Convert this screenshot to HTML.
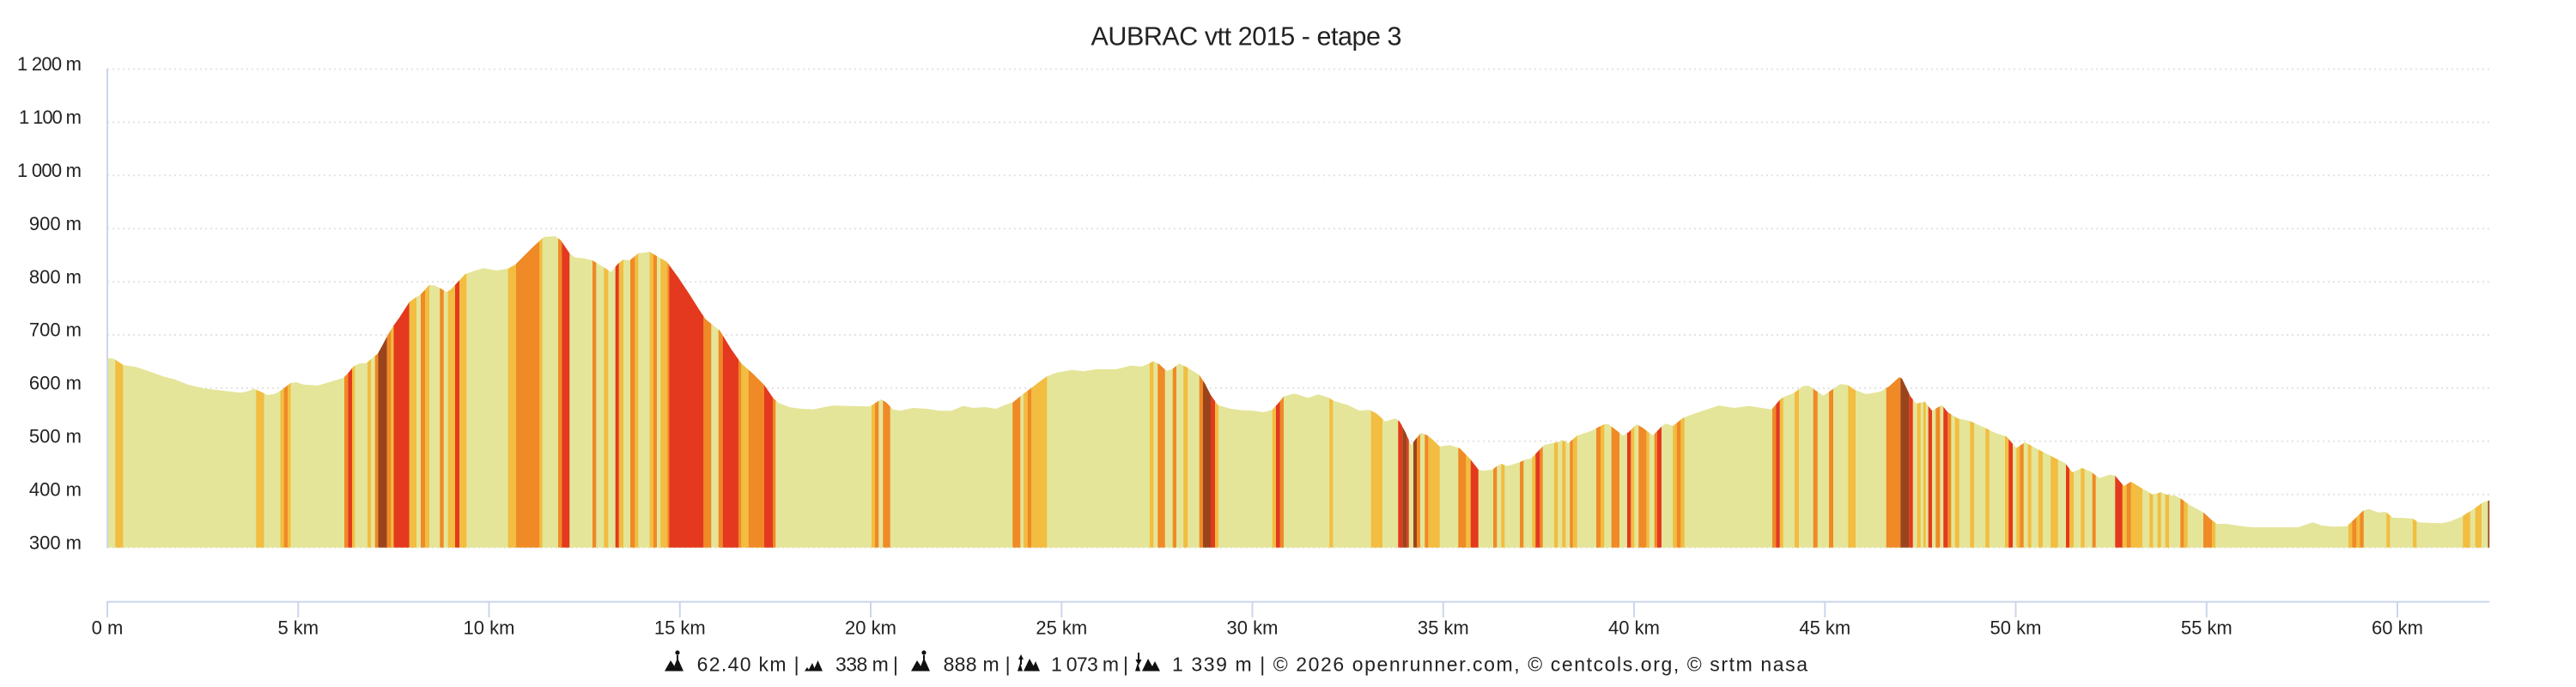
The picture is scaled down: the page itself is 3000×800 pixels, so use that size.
<!DOCTYPE html>
<html><head><meta charset="utf-8"><style>
html,body{margin:0;padding:0;background:#fff;}
svg{display:block;}
text{font-family:"Liberation Sans",sans-serif;fill:#222;}
</style></head><body>
<svg width="3000" height="800" viewBox="0 0 3000 800" xmlns="http://www.w3.org/2000/svg">
<rect width="3000" height="800" fill="#fff"/>
<text x="1270.5" y="52.3" font-size="30.5" textLength="362" fill="#111">AUBRAC vtt 2015 - etape 3</text>
<g stroke="#e3e3e3" stroke-width="2" stroke-dasharray="2,4">
<path d="M125,80.5H2899M125,142.4H2899M125,204.3H2899M125,266.2H2899M125,328.1H2899M125,390H2899M125,451.9H2899M125,513.8H2899M125,575.7H2899M125,637.6H2899"/>
</g>
<g font-size="22" text-anchor="end">
<text x="95" y="82.2" textLength="75">1 200 m</text>
<text x="95" y="144.1" textLength="73">1 100 m</text>
<text x="95" y="206" textLength="75">1 000 m</text>
<text x="95" y="267.9">900 m</text>
<text x="95" y="329.8">800 m</text>
<text x="95" y="391.7">700 m</text>
<text x="95" y="453.6">600 m</text>
<text x="95" y="515.5">500 m</text>
<text x="95" y="577.4">400 m</text>
<text x="95" y="639.3">300 m</text>
</g>
<defs>
<clipPath id="prof">
<polygon points="125,637.6 125,417.3 130.7,417.3 135,419.3 143.3,425 158.3,427.3 173.3,432.3 190,438.3 203.3,441.7 220,448.3 240,452.7 260,455 280,457.3 287.3,456 296,452.7 303.3,456 311.7,460 320,458.7 328.3,454 338.3,446 345,445 353.3,447.7 370,449 383.3,445 400,440 405,435 411.7,426.7 418.3,423.3 426.7,422.7 433.3,417.3 440,411.7 445,402.7 451.7,390 458.3,379.3 465,370 476.7,351.7 485,345.7 490,342.7 500,331.7 506.7,332.7 513.3,336 520,340 525,337.3 533.3,328.3 541.7,319.3 553.3,315 563.3,312.3 578.3,315 591.7,312.7 600,308.3 610,298.3 620,288.3 633.3,276 646.7,275 653.3,280 663.3,295 670,300 680,300.7 690,303.3 700,309.3 711.7,316.7 720,306.7 726,302.3 733.3,303.3 743.3,295 756.7,293.3 766.7,299.3 776.7,305 790,323.3 803.3,343.3 815,361.7 821.7,371.7 838.3,385 851.7,406.7 863.3,423.3 876.7,435 890,448.3 900,463 906.7,469.3 920,474.3 933.3,476 946.7,476.7 970,472.3 986.7,472.7 1013.3,473.3 1026,465 1031.7,468.3 1040,476.7 1048.3,478.3 1063.3,475 1080,476 1093.3,478.3 1108.3,478.3 1121.7,472.7 1133.3,475 1146.7,474 1160,476 1170,471.7 1180,468.3 1190,460 1200,452.7 1210,445 1219.3,438.3 1230,434 1248.3,430.7 1261.7,432.3 1276.7,430 1300,430 1316.7,425.7 1330,426.7 1343.3,420.7 1350,424 1358.3,431.7 1365,430 1373.3,423.3 1383.3,428.3 1396.7,436.7 1403.3,446.7 1410,460 1418.3,471.7 1433.3,476 1446.7,477.7 1460,478.3 1471.7,480 1481.7,477.3 1488.3,470 1495,461.7 1506.7,458.3 1513.3,460 1523.3,463.3 1535,459.3 1546.7,462.7 1553.3,466.7 1570,471.7 1583.3,478.3 1595,477.3 1603.3,481.7 1613.3,490.7 1625,487.3 1630,490.7 1636.7,503.3 1643.3,518.3 1648.3,511.7 1655,504 1661.7,506.7 1668.3,511.7 1676.7,520 1688.3,518.3 1700,522 1711.7,534 1721.7,546.7 1726.7,548.3 1738.3,546.7 1743.3,542.7 1748.3,540 1755,542.7 1770,538.3 1776.7,535 1783.3,534 1790,526.7 1798.3,518.3 1808.3,516 1813.3,515 1820,512.7 1826.7,516 1836.7,507.3 1853.3,501.7 1860,498.3 1868.3,494 1873.3,494 1883.3,501.7 1890,507.3 1896.7,503.3 1906,494 1913.3,498.3 1925,507.3 1935,496.7 1940,493.3 1948.3,496 1960,486.7 1966.7,484 1983.3,478.3 2001.7,472.3 2020,475 2036.7,472.7 2063.3,476.7 2073.3,465 2078.3,461.7 2088.3,458.3 2100,449.5 2106.7,449.3 2115,455 2123.3,460.7 2131.7,455 2143.3,447.3 2151.7,448.3 2160,454 2173.3,459 2190,456 2200,450 2211.7,439.3 2215,440.7 2225,461.7 2231.7,470 2241.7,467.7 2250,478.3 2261.7,471.7 2268.3,480 2280,487.3 2293.3,490 2310,497.3 2323.3,504 2336.7,508.3 2348.3,521.7 2358.3,515 2376.7,525 2390,531.7 2405,539.3 2413.3,550 2425,545 2435,549.3 2445,556.7 2456.7,552.7 2463.3,554 2473.3,566 2481.7,561 2496.7,570 2500,571.5 2506.7,576 2516.7,573.3 2523.3,576 2533.3,577.3 2540,580.7 2550,588.3 2560,593.3 2566.7,597.3 2575,605 2581.7,610 2593.3,610 2606.7,612.3 2623.3,614 2640,614 2656.7,614 2676.7,614 2685,611 2693.3,608.3 2703.3,611.7 2716.7,613.3 2733.3,612.7 2743.3,603.3 2751.7,595 2758.3,592.7 2770,596.7 2778.3,596 2786.7,602.7 2800,603.3 2810,604 2816.7,608.3 2833.3,609 2843.3,609.3 2853.3,607.3 2866.7,601.7 2880,593.3 2891.7,585 2899.3,582.7 2899.3,637.6"/>
</clipPath>
</defs>
<g clip-path="url(#prof)">
<rect x="125" y="260" width="2775" height="378" fill="#e4e599"/>
<path fill="#f2bd40" d="M134.3,260h9v378h-9zM298.3,260h9.2v378h-9.2zM326.5,260h4.2v378h-4.2zM335,260h3.5v378h-3.5zM410,260h3.3v378h-3.3zM428,260h4v378h-4zM455.4,260h3.1v378h-3.1zM476.6,260h8.4v378h-8.4zM495,260h5v378h-5zM521.7,260h8.3v378h-8.3zM535,260h8.3v378h-8.3zM591.7,260h9.3v378h-9.3zM628.3,260h3.4v378h-3.4zM703.3,260h5v378h-5zM720.7,260h5.3v378h-5.3zM739.3,260h4v378h-4zM756.7,260h4.3v378h-4.3zM769.3,260h8v378h-8zM863.3,260h8.4v378h-8.4zM1015,260h4v378h-4zM1192,260h4.7v378h-4.7zM1201,260h18.3v378h-18.3zM1339,260h4.3v378h-4.3zM1378.3,260h5v378h-5zM1415,260h4v378h-4zM1481.7,260h4.3v378h-4.3zM1548.3,260h4v378h-4zM1596.7,260h13.3v378h-13.3zM1663.3,260h13.4v378h-13.4zM1707.3,260h5.4v378h-5.4zM1748.3,260h4v378h-4zM1784.3,260h4v378h-4zM1810,260h4.3v378h-4.3zM1819.3,260h4v378h-4zM1831.7,260h5v378h-5zM1864,260h4.3v378h-4.3zM1899.3,260h4v378h-4zM1917.3,260h3.4v378h-3.4zM1948.3,260h4.4v378h-4.4zM1957.3,260h4.4v378h-4.4zM2072.7,260h4v378h-4zM2090,260h5v378h-5zM2152.3,260h8.7v378h-8.7zM2232.7,260h4v378h-4zM2240,260h2.7v378h-2.7zM2276.7,260h5v378h-5zM2294.3,260h4.7v378h-4.7zM2312.3,260h4.4v378h-4.4zM2335,260h4.3v378h-4.3zM2348.3,260h4v378h-4zM2361.7,260h4v378h-4zM2374,260h5v378h-5zM2388.3,260h8.4v378h-8.4zM2410,260h5v378h-5zM2423.3,260h4.4v378h-4.4zM2471.7,260h5v378h-5zM2481.7,260h13.3v378h-13.3zM2503.3,260h4v378h-4zM2512.7,260h4v378h-4zM2521.7,260h4.3v378h-4.3zM2543.3,260h4.4v378h-4.4zM2576,260h4v378h-4zM2735,260h4.3v378h-4.3zM2744.3,260h4v378h-4zM2779.3,260h4v378h-4zM2810,260h4.3v378h-4.3zM2868.3,260h8.4v378h-8.4zM2882.7,260h7.3v378h-7.3z"/>
<path fill="#ef8a26" d="M330.7,260h4.3v378h-4.3zM401,260h4.5v378h-4.5zM436.7,260h3.8v378h-3.8zM450.5,260h4.9v378h-4.9zM490,260h5v378h-5zM512.3,260h4.4v378h-4.4zM601,260h27.3v378h-27.3zM650,260h4.3v378h-4.3zM690,260h4.3v378h-4.3zM734,260h5.3v378h-5.3zM761,260h4v378h-4zM777.3,260h2v378h-2zM819.3,260h9v378h-9zM836.7,260h5v378h-5zM860,260h3.3v378h-3.3zM871.7,260h18.3v378h-18.3zM900,260h3.3v378h-3.3zM1019,260h4.3v378h-4.3zM1028.3,260h8.4v378h-8.4zM1179.3,260h9v378h-9zM1196.7,260h4.3v378h-4.3zM1348.3,260h8.4v378h-8.4zM1365.7,260h4.3v378h-4.3zM1396.7,260h4.3v378h-4.3zM1490.7,260h4.3v378h-4.3zM1650,260h4v378h-4zM1659.3,260h4v378h-4zM1698.3,260h9v378h-9zM1739,260h4.3v378h-4.3zM1770,260h4.3v378h-4.3zM1793.3,260h3.4v378h-3.4zM1828.3,260h3.4v378h-3.4zM1859,260h5v378h-5zM1876.7,260h9.3v378h-9.3zM1908.3,260h9v378h-9zM1926.7,260h3.3v378h-3.3zM1952.7,260h4.6v378h-4.6zM2064,260h4.3v378h-4.3zM2111.7,260h5v378h-5zM2130,260h5v378h-5zM2196.7,260h16.6v378h-16.6zM2254.3,260h5v378h-5zM2268.3,260h4v378h-4zM2352.3,260h4.4v378h-4.4zM2436.7,260h4v378h-4zM2476.7,260h5v378h-5zM2539.3,260h4v378h-4zM2566,260h10v378h-10zM2739.3,260h5v378h-5zM2748.3,260h4.4v378h-4.4z"/>
<path fill="#e4391e" d="M405.5,260h4.5v378h-4.5zM458.5,260h18.1v378h-18.1zM530,260h5v378h-5zM654.3,260h9v378h-9zM716.7,260h4v378h-4zM779.3,260h40v378h-40zM841.7,260h18.3v378h-18.3zM890,260h10v378h-10zM1410,260h5v378h-5zM1486,260h4.7v378h-4.7zM1628.3,260h5v378h-5zM1638.3,260h2.4v378h-2.4zM1712.7,260h9v378h-9zM1788.3,260h5v378h-5zM1895,260h4.3v378h-4.3zM1930,260h5v378h-5zM2068.3,260h4.4v378h-4.4zM2223.3,260h4.4v378h-4.4zM2245.7,260h4.3v378h-4.3zM2263.3,260h5v378h-5zM2339.3,260h4.7v378h-4.7zM2406,260h4v378h-4zM2463.3,260h8.4v378h-8.4z"/>
<path fill="#9a441e" d="M440.5,260h10v378h-10zM1401,260h9v378h-9zM1633.3,260h5v378h-5zM1646,260h4v378h-4zM2213.3,260h10v378h-10zM2897.5,260h1.8v378h-1.8z"/>
</g>
<path d="M125,80V638M125,700.7H2899.3" stroke="#ccd6eb" stroke-width="2" fill="none"/>
<path stroke="#ccd6eb" stroke-width="2" d="M125,700V719M347.3,700V719M569.5,700V719M791.8,700V719M1014,700V719M1236.3,700V719M1458.5,700V719M1680.8,700V719M1903,700V719M2125.3,700V719M2347.5,700V719M2569.8,700V719M2792,700V719"/>
<g font-size="22" text-anchor="middle">
<text x="125" y="738.3">0 m</text>
<text x="347.3" y="738.3">5 km</text>
<text x="569.5" y="738.3">10 km</text>
<text x="791.8" y="738.3">15 km</text>
<text x="1014" y="738.3">20 km</text>
<text x="1236.3" y="738.3">25 km</text>
<text x="1458.5" y="738.3">30 km</text>
<text x="1680.8" y="738.3">35 km</text>
<text x="1903" y="738.3">40 km</text>
<text x="2125.3" y="738.3">45 km</text>
<text x="2347.5" y="738.3">50 km</text>
<text x="2569.8" y="738.3">55 km</text>
<text x="2792" y="738.3">60 km</text>
</g>
<g fill="#111">
<path d="M774,781.5L781,769L785,775V781.5ZM783,781.5L789,766L796,781.5Z"/>
<circle cx="789" cy="760" r="2.6"/>
<rect x="788" y="763" width="2" height="5"/>
<path d="M937,781.5L940,777L943,781.5ZM941,781.5L946,772L950,781.5ZM947,781.5L952.5,769L958,781.5Z"/>
<path d="M1061,781.5L1068,769L1072,775V781.5ZM1070,781.5L1076,766L1083,781.5Z"/>
<circle cx="1076" cy="760" r="2.6"/>
<rect x="1075" y="763" width="2" height="5"/>
<path d="M1185,781.5L1188,772L1191,781.5ZM1186,768L1189,762L1192,768ZM1192,781.5L1199,767L1204,776V781.5ZM1201,781.5L1206,770L1211,781.5Z"/>
<rect x="1188" y="766" width="2" height="8"/>
<path d="M1322,781.5L1325,772L1328,781.5ZM1322.5,768L1326,775L1329.5,768ZM1330,781.5L1337,767L1342,776V781.5ZM1339,781.5L1345,770L1351,781.5Z"/>
<rect x="1325" y="760" width="2" height="10"/>
</g>
<g font-size="23">
<text x="811.6" y="781.7" textLength="119">62.40 km |</text>
<text x="973" y="781.7" textLength="73">338 m |</text>
<text x="1098.6" y="781.7" textLength="78">888 m |</text>
<text x="1224" y="781.7" textLength="90">1 073 m |</text>
<text x="1365" y="781.7" textLength="740">1 339 m | © 2026 openrunner.com, © centcols.org, © srtm nasa</text>
</g>
</svg>
</body></html>
